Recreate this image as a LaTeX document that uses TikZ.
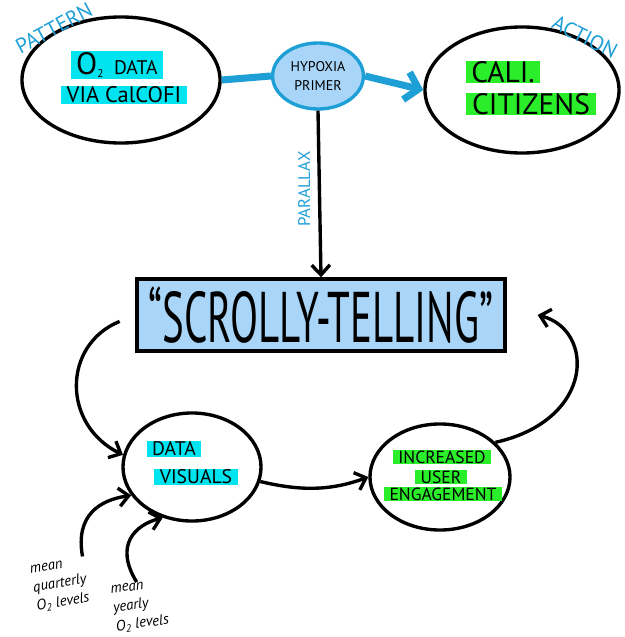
\documentclass[tikz,border=0pt]{standalone}
\usepackage{fontspec}
\setmainfont{PT Sans}
\usetikzlibrary{shapes.geometric, arrows.meta, positioning}

\definecolor{skyline}{HTML}{1E9FD6}
\definecolor{skyfill}{HTML}{A8D5F8}
\definecolor{hlcyan}{HTML}{00E4F0}
\definecolor{hlgreen}{HTML}{2BEE2B}

\tikzset{
  bubble/.style={draw=black, ellipse, line width=2.4pt},
  hlc/.style={fill=hlcyan, inner xsep=4pt, inner ysep=0.5pt},
  hlg/.style={fill=hlgreen, inner xsep=4pt, inner ysep=0.5pt},
  tag/.style={text=skyline, font=\fontsize{15}{15}\selectfont},
  flow/.style={line width=2.4pt, -{Straight Barb[length=7pt,width=13pt,line width=2.4pt]}},
  note/.style={align=left, font=\itshape\fontsize{10.5}{13.5}\selectfont, inner sep=0pt}
}

\begin{document}
\begin{tikzpicture}[x=0.025cm, y=-0.025cm]
\useasboundingbox (0,0) rectangle (624,637);

% Pattern
\node[bubble, minimum width=4.95cm, minimum height=3.15cm] (pattern) at (121,80) {};
\node[hlc, font=\fontsize{14}{14}\selectfont] (o2) at (117,65) {{\fontsize{22}{22}\selectfont O}\raisebox{-0.4ex}{\fontsize{8}{8}\selectfont 2}\ \ DATA};
\node[hlc, font=\fontsize{16}{16}\selectfont] (calcofi) at (124,95) {VIA CalCOFI};
\node[tag, rotate=28] (patterntag) at (54,28) {PATTERN};

% Primer
\node[ellipse, draw=skyline, fill=skyfill, line width=2.4pt, minimum width=2cm, minimum height=1.65cm,
  align=center, font=\fontsize{10}{13}\selectfont] (primer) at (318,76) {HYPOXIA\\PRIMER};

% Action
\node[bubble, minimum width=4.85cm, minimum height=3.15cm] (action) at (522,90) {};
\node[hlg, font=\fontsize{21}{21}\selectfont] (cali) at (503,72) {CALI.};
\node[hlg, font=\fontsize{21}{21}\selectfont] (citizens) at (531,104) {CITIZENS};
\node[tag, rotate=-27] (actiontag) at (585,37) {ACTION};

\draw[skyline, line width=5pt] (pattern.east) -- (primer.west);
\draw[skyline, line width=5pt, -{Straight Barb[length=9pt,width=20pt,line width=5pt]}] (primer.east) -- (action.west);

% Scrolly-telling
\node[draw=black, fill=skyfill, line width=2.4pt, minimum width=9.2cm, minimum height=1.8cm, inner sep=0pt,
  font=\fontsize{30}{30}\selectfont] (scrolly) at (321,315) {\scalebox{0.97}[1.7]{“SCROLLY-TELLING”}};

\draw[flow] (primer.south) -- (scrolly.north) node[pos=0.47, left=2pt, rotate=90, anchor=south, text=skyline, font=\fontsize{12}{12}\selectfont] (parallax) {PARALLAX};

% Data visuals
\node[bubble, minimum width=3.45cm, minimum height=2.7cm] (visuals) at (192,467) {};
\node[hlc, font=\fontsize{14}{14}\selectfont] (datatxt) at (174,449) {DATA};
\node[hlc, font=\fontsize{14}{14}\selectfont] (visualstxt) at (196,477) {VISUALS};

% Engagement
\node[bubble, minimum width=3.5cm, minimum height=2.65cm] (engage) at (440,477) {};
\node[hlg, font=\fontsize{12.5}{12.5}\selectfont] (increased) at (442,457) {INCREASED};
\node[hlg, font=\fontsize{12.5}{12.5}\selectfont] (user) at (441,477) {USER};
\node[hlg, font=\fontsize{12.5}{12.5}\selectfont] (engagement) at (443,494) {ENGAGEMENT};

% Loop
\draw[flow, shorten <=12pt] (scrolly.west) .. controls (62,345) and (62,425) .. (visuals.170);
\draw[flow] (visuals.-12) .. controls (300,491) and (330,491) .. (engage.west);
\draw[flow] (engage.32) .. controls (595,420) and (595,330) .. ([xshift=22pt]scrolly.east);

% Inputs
\node[note, rotate=10] (quarterly) at (60,585) {mean\\quarterly\\O\textsubscript{2} levels};
\node[note, rotate=8] (yearly) at (140,606) {mean\\yearly\\O\textsubscript{2} levels};
\draw[flow] (quarterly.north east) .. controls (75,515) and (100,500) .. (visuals.205);
\draw[flow] (yearly.north) .. controls (114,545) and (135,525) .. (visuals.240);

\end{tikzpicture}
\end{document}
